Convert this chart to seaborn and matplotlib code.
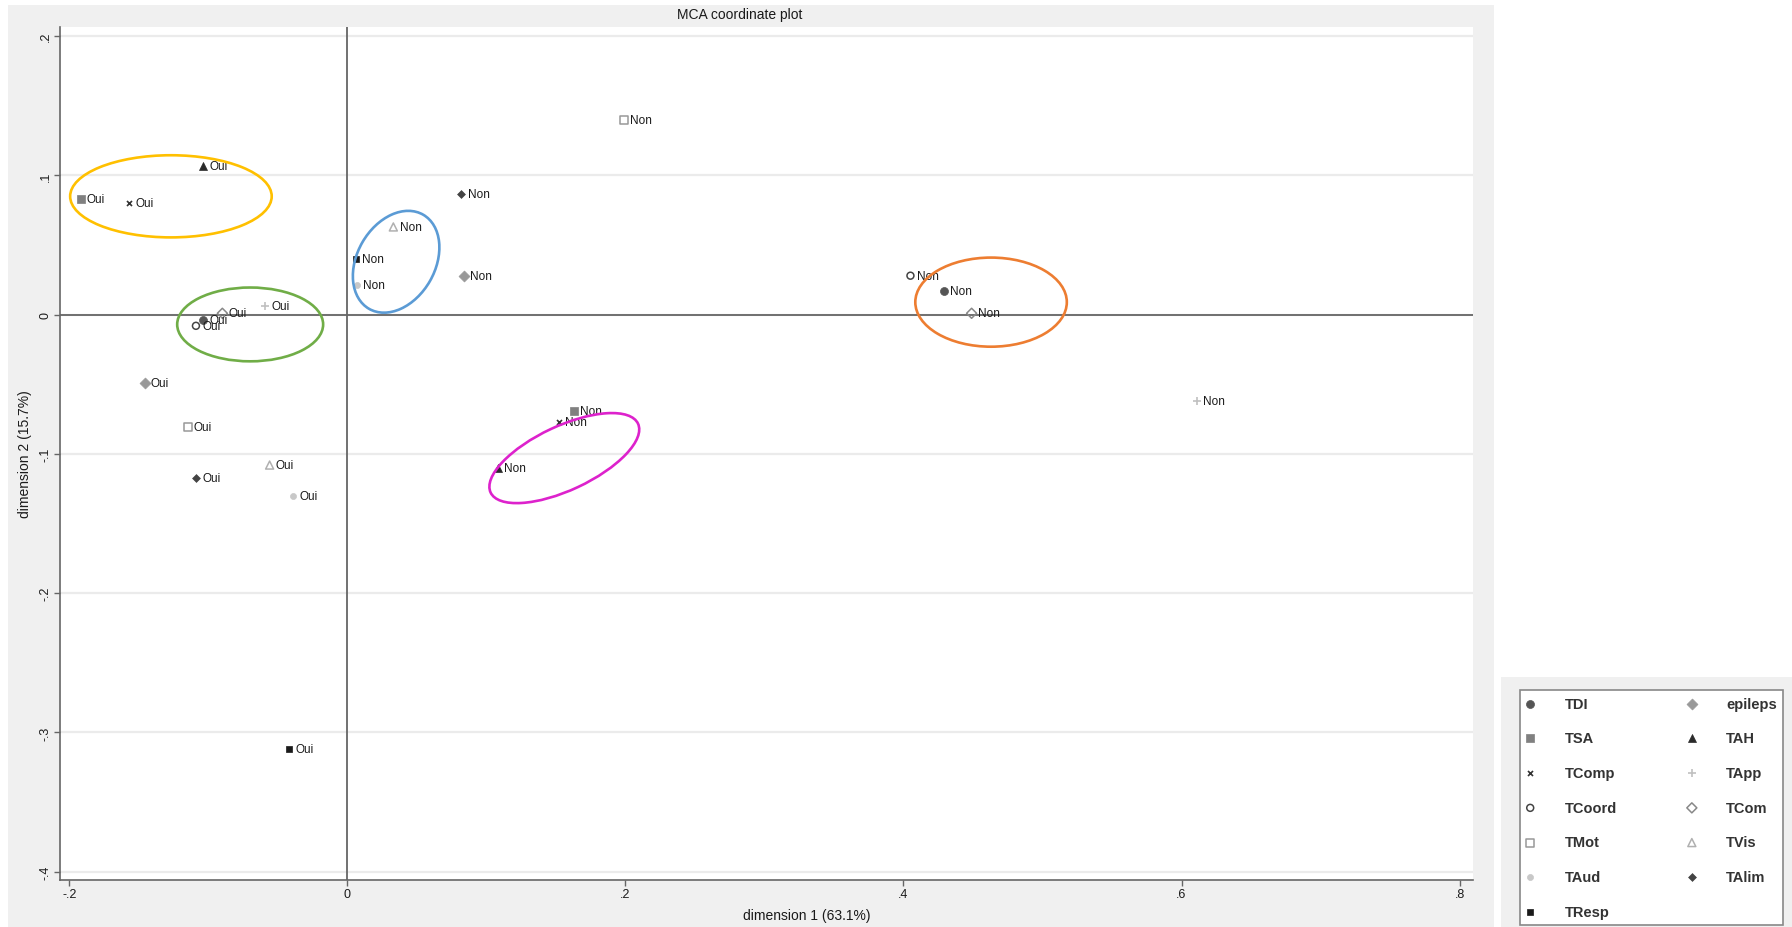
import matplotlib
matplotlib.use("Agg")
import matplotlib.pyplot as plt
from matplotlib.patches import Ellipse, Rectangle
import seaborn as sns
import pandas as pd

# MCA category coordinates
categories = ["TDI", "TSA", "TComp", "TCoord", "TMot", "TAud", "TResp",
              "epileps", "TAH", "TApp", "TCom", "TVis", "TAlim"]
oui_dim1 = [-0.104, -0.192, -0.157, -0.109, -0.115, -0.039, -0.042,
            -0.146, -0.104, -0.059, -0.090, -0.056, -0.109]
oui_dim2 = [-0.004, 0.083, 0.080, -0.008, -0.081, -0.130, -0.312,
            -0.049, 0.107, 0.006, 0.001, -0.108, -0.117]
non_dim1 = [0.429, 0.163, 0.152, 0.405, 0.199, 0.007, 0.006,
            0.084, 0.108, 0.611, 0.449, 0.033, 0.082]
non_dim2 = [0.017, -0.069, -0.077, 0.028, 0.140, 0.021, 0.040,
            0.028, -0.110, -0.062, 0.001, 0.063, 0.087]
x_ticks = [-0.2, 0, 0.2, 0.4, 0.6, 0.8]
x_tick_labels = ["-.2", "0", ".2", ".4", ".6", ".8"]
y_ticks = [-0.4, -0.3, -0.2, -0.1, 0, 0.1, 0.2]
y_tick_labels = ["-.4", "-.3", "-.2", "-.1", "0", ".1", ".2"]

# highlighted groups: centre x, centre y, width, height, angle, colour
groups = [
    (-0.127, 0.085, 0.145, 0.059, 0, "#FFC000"),
    (-0.070, -0.007, 0.105, 0.053, 0, "#70AD47"),
    (0.035, 0.038, 0.056, 0.078, -30, "#5B9BD5"),
    (0.463, 0.009, 0.109, 0.064, 0, "#ED7D31"),
    (0.156, -0.103, 0.117, 0.046, 25, "#DD22CC"),
]

# marker, colour, filled, size
styles = {
    "TDI": ("o", "#555555", True, 33),
    "TSA": ("s", "#808080", True, 36),
    "TComp": ("x", "#333333", True, 13),
    "TCoord": ("o", "#444444", False, 25),
    "TMot": ("s", "#999999", False, 33),
    "TAud": ("o", "#c8c8c8", True, 19),
    "TResp": ("s", "#1a1a1a", True, 19),
    "epileps": ("D", "#999999", True, 31),
    "TAH": ("^", "#2a2a2a", True, 33),
    "TApp": ("+", "#c0c0c0", True, 30),
    "TCom": ("D", "#888888", False, 26),
    "TVis": ("^", "#b0b0b0", False, 33),
    "TAlim": ("D", "#444444", True, 16),
}

df = pd.DataFrame({
    "cat": categories * 2,
    "level": ["Oui"] * len(categories) + ["Non"] * len(categories),
    "dim1": oui_dim1 + non_dim1,
    "dim2": oui_dim2 + non_dim2,
})

sns.set_theme(style="white")
plt.rcParams["font.family"] = ["Liberation Sans", "DejaVu Sans"]

W, H = 1792, 928
fig = plt.figure(figsize=(W / 100, H / 100), dpi=100, facecolor="white")
# grey graph region and legend region
fig.patches.append(Rectangle((8 / W, 0), (1494 - 8) / W, 1 - 6 / H,
                             transform=fig.transFigure, facecolor="#f0f0f0",
                             edgecolor="none", zorder=-5))
fig.patches.append(Rectangle((1501 / W, 0), (W - 1501) / W, 1 - 678 / H,
                             transform=fig.transFigure, facecolor="#f0f0f0",
                             edgecolor="none", zorder=-5))

left, right, top, bottom = 60, 1473, 28, 881
ax = fig.add_axes([left / W, 1 - bottom / H, (right - left) / W, (bottom - top) / H])
ax.set_facecolor("white")
ax.set_zorder(1)

for y in y_ticks:
    ax.axhline(y, color="#ebebeb", lw=1.6, zorder=0)
ax.axhline(0, color="#666666", lw=1.3, zorder=1)
ax.axvline(0, color="#666666", lw=1.3, zorder=1)

for cat in categories:
    marker, color, filled, size = styles[cat]
    sub = df[df["cat"] == cat]
    kws = dict(marker=marker, s=size, color=color, label=cat, ax=ax, zorder=3)
    if marker in ("x", "+"):
        kws.update(edgecolor=color, linewidth=1.2)
    elif filled:
        kws.update(edgecolor=color, linewidth=0.5)
    else:
        kws.update(facecolor="none", edgecolor=color, linewidth=1.1)
    sns.scatterplot(data=sub, x="dim1", y="dim2", legend=False, **kws)
    for _, row in sub.iterrows():
        ax.annotate(row["level"], (row["dim1"], row["dim2"]), xytext=(4.5, 0),
                    textcoords="offset points", va="center", ha="left",
                    fontsize=8.5, color="#1a1a1a", zorder=4)

for cx, cy, w, h, ang, col in groups:
    ax.add_patch(Ellipse((cx, cy), w, h, angle=ang, fill=False,
                         edgecolor=col, lw=1.9, zorder=5))

ax.set_xlim(-0.2068, 0.8097)
ax.set_ylim(-0.406, 0.2066)
ax.set_xticks(x_ticks, x_tick_labels)
ax.set_yticks(y_ticks, y_tick_labels)
ax.tick_params(axis="y", labelrotation=90)
for lab in ax.get_yticklabels():
    lab.set_va("center")
ax.tick_params(direction="out", length=4, width=1, color="#666666",
               labelsize=9, labelcolor="#1a1a1a", pad=2, left=True, bottom=True)
ax.set_xlabel("")
ax.set_ylabel("")
for side in ["top", "right"]:
    ax.spines[side].set_visible(False)
for side in ["left", "bottom"]:
    ax.spines[side].set_color("#666666")
    ax.spines[side].set_linewidth(1.2)

fig.text(740 / W, 1 - 15 / H, "MCA coordinate plot", ha="center", va="center",
         fontsize=10, color="#1a1a1a")
fig.text(807 / W, 1 - 916 / H, "dimension 1 (63.1%)", ha="center", va="center",
         fontsize=10, color="#1a1a1a")
fig.text(25 / W, 1 - 454 / H, "dimension 2 (15.7%)", ha="center", va="center",
         rotation=90, fontsize=10, color="#1a1a1a")

# legend built from the scatter artists
handles = ax.collections[:len(categories)]
leg = fig.legend(handles, categories, ncol=2, loc="upper left",
                 bbox_to_anchor=(1520 / W, 1 - 691 / H), borderaxespad=0,
                 frameon=True, fancybox=False, edgecolor="#888888",
                 facecolor="white", framealpha=1, borderpad=0.45,
                 handlelength=0.5, handletextpad=2.1, columnspacing=4.9,
                 labelspacing=1.42, scatterpoints=1,
                 prop={"size": 10.5, "weight": "bold"})
for t in leg.get_texts():
    t.set_color("#333333")
leg.get_frame().set_linewidth(1.2)

fig.savefig("out.png", dpi=100, facecolor="white")
